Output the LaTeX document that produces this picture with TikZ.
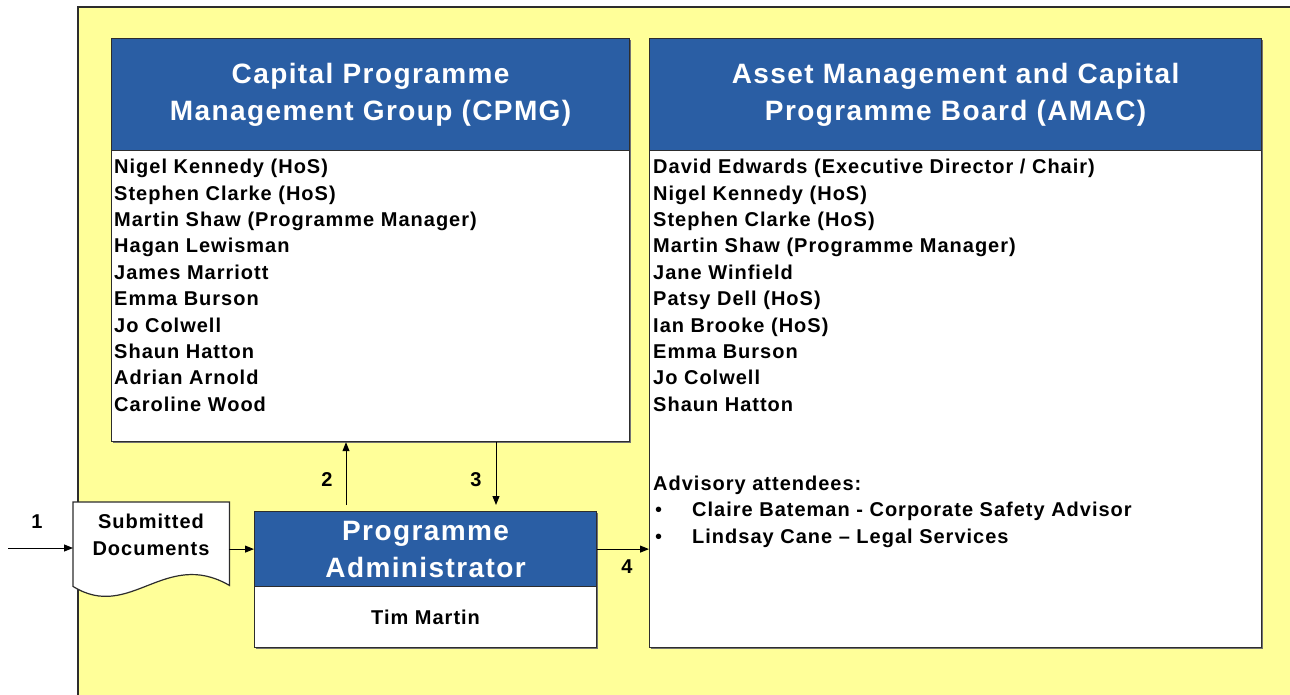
\documentclass[tikz,border=0pt]{standalone}
\usepackage{fontspec}
\setmainfont{Liberation Sans}[LetterSpace=5]
\usetikzlibrary{arrows.meta}
\definecolor{hdrblue}{RGB}{42,94,164}
\definecolor{bgyellow}{RGB}{255,255,153}
\definecolor{edgegray}{RGB}{45,45,45}
\begin{document}
\begin{tikzpicture}[x=1pt,y=-1pt,
  box/.style={draw=edgegray, line width=1.2pt, anchor=north west, inner sep=0pt},
  hdr/.style={box, fill=hdrblue, text=white, align=center,
    font=\fontsize{28}{37}\selectfont\bfseries},
  bodybox/.style={box, fill=white},
  shadow/.style={fill=black!55},
  list/.style={anchor=north west, inner sep=0pt, align=left,
    font=\fontsize{20}{26.4}\selectfont\bfseries},
  lbl/.style={inner sep=0pt, font=\fontsize{20}{24}\selectfont\bfseries},
  arr/.style={-{Triangle[length=9pt,width=7pt]}, line width=1pt, draw=black}
]
\useasboundingbox (0,0) rectangle (1290,695);
\clip (0,0) rectangle (1290,695);
% background
\draw[fill=bgyellow, draw=edgegray, line width=1.2pt] (78,7) rectangle (1300,710);

% shadows
\fill[shadow] (113,40) rectangle (631,443);
\fill[shadow] (651,40) rectangle (1263,649);
\fill[shadow] (256,513) rectangle (598,649);

% CPMG
\node[hdr, minimum width=518pt, minimum height=112pt] (cpmgH) at (111,38)
  {Capital Programme\\Management Group (CPMG)};
\node[bodybox, minimum width=518pt, minimum height=291pt] (cpmgB) at (111,150) {};
\node[list] (cpmgL) at (114,159) {Nigel Kennedy (HoS)\\Stephen Clarke (HoS)\\Martin Shaw (Programme Manager)\\Hagan Lewisman\\James Marriott\\Emma Burson\\Jo Colwell\\Shaun Hatton\\Adrian Arnold\\Caroline Wood};

% AMAC
\node[hdr, minimum width=612pt, minimum height=112pt] (amacH) at (649,38)
  {Asset Management and Capital\\Programme Board (AMAC)};
\node[bodybox, minimum width=612pt, minimum height=497pt] (amacB) at (649,150) {};
\node[list] (amacL) at (653,159) {David Edwards (Executive Director / Chair)\\Nigel Kennedy (HoS)\\Stephen Clarke (HoS)\\Martin Shaw (Programme Manager)\\Jane Winfield\\Patsy Dell (HoS)\\Ian Brooke (HoS)\\Emma Burson\\Jo Colwell\\Shaun Hatton\\[26.4pt]\mbox{}\\Advisory attendees:\\\makebox[39pt][l]{\hspace{2pt}\mdseries\textbullet}Claire Bateman - Corporate Safety Advisor\\\makebox[39pt][l]{\hspace{2pt}\mdseries\textbullet}Lindsay Cane – Legal Services};

% Programme Administrator
\node[hdr, minimum width=342pt, minimum height=75pt] (paH) at (254,511)
  {Programme\\Administrator};
\node[bodybox, minimum width=342pt, minimum height=61pt, font=\fontsize{20}{24}\selectfont\bfseries] (paB) at (254,586) {Tim Martin};

% Submitted documents
\node[anchor=north west, minimum width=156pt, minimum height=82pt, inner sep=0pt] (doc) at (73,502) {};
\draw[fill=white, draw=edgegray, line width=1.2pt]
  (doc.north west) -- (doc.north east) -- ([yshift=-1pt]doc.south east)
  .. controls (165,548) and (130,622) .. ([yshift=-2pt]doc.south west) -- cycle;
\node[lbl, align=center, font=\fontsize{20}{27}\selectfont\bfseries] (docT) at (151,535) {Submitted\\Documents};

% connectors
\coordinate (start) at (8,548);
\draw[arr] (start) -- (start -| doc.west);
\draw[arr] (doc.east |- paH.west) -- (paH.west);
\draw[arr, shorten <=6pt] ([xshift=92pt]paH.north west) -- ([xshift=92pt]paH.north west |- cpmgB.south);
\draw[arr, shorten >=6pt] ([xshift=242pt]paH.north west |- cpmgB.south) -- ([xshift=242pt]paH.north west);
\draw[arr] (paH.east) -- (paH.east -| amacB.west);

% labels
\node[lbl] (l1) at (37,522) {1};
\node[lbl] (l2) at (327,480) {2};
\node[lbl] (l3) at (476,480) {3};
\node[lbl] (l4) at (627,567) {4};
\end{tikzpicture}
\end{document}
